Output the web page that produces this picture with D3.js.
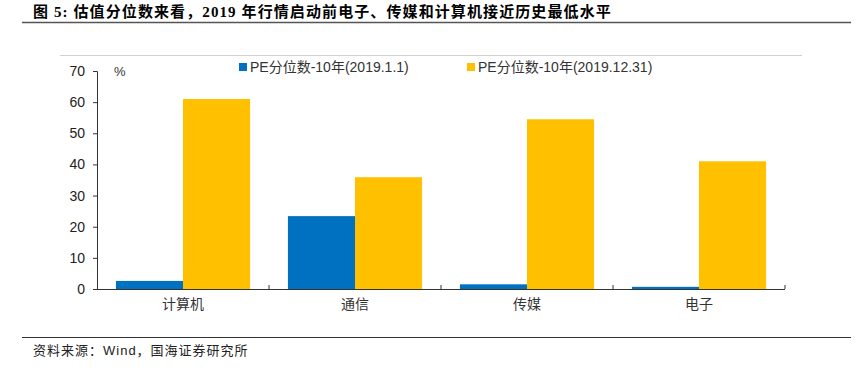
<!DOCTYPE html>
<html>
<head>
<meta charset="utf-8">
<script src="https://cdn.jsdelivr.net/npm/d3@7"></script>
<style>
  body { margin: 0; background: #fff; }
  svg { display: block; }
</style>
</head>
<body>
<svg id="chart" width="857" height="372"></svg>
<script>
const categories = ['计算机', '通信', '传媒', '电子']
const seriesNames = ['PE分位数-10年(2019.1.1)', 'PE分位数-10年(2019.12.31)']
const start2019 = [2.6, 23.4, 1.5, 0.7]
const end2019 = [61.0, 35.9, 54.5, 41.0]
const yTicks = [0, 10, 20, 30, 40, 50, 60, 70]

const colors = ['#0070C0', '#FFC000']
const cjk = '"Liberation Sans", "Noto Sans CJK SC", sans-serif'

const svg = d3.select('#chart')

// title + rules
svg.append('text')
  .attr('x', 33).attr('y', 17)
  .attr('font-family', '"Liberation Serif", "Noto Sans CJK SC", serif')
  .attr('font-weight', 'bold')
  .attr('font-size', '15px')
  .attr('letter-spacing', '1.1px')
  .attr('fill', '#000')
  .text('图 5:  估值分位数来看，2019 年行情启动前电子、传媒和计算机接近历史最低水平')

svg.append('line')
  .attr('x1', 22).attr('x2', 851).attr('y1', 22.5).attr('y2', 22.5)
  .attr('stroke', '#555').attr('stroke-width', 1.5)

svg.append('line')
  .attr('x1', 60).attr('x2', 802).attr('y1', 55.5).attr('y2', 55.5)
  .attr('stroke', '#d0d0d0').attr('stroke-width', 1)

svg.append('line')
  .attr('x1', 22).attr('x2', 851).attr('y1', 337.5).attr('y2', 337.5)
  .attr('stroke', '#333').attr('stroke-width', 1)

svg.append('text')
  .attr('x', 33).attr('y', 355)
  .attr('font-family', cjk)
  .attr('font-size', '13px')
  .attr('letter-spacing', '1px')
  .attr('fill', '#222')
  .text('资料来源：Wind，国海证券研究所')

// plot area
const plotLeft = 97, plotRight = 785, plotTop = 71, plotBottom = 289

const x0 = d3.scaleBand().domain(categories).range([plotLeft, plotRight])
  .paddingInner(0.22).paddingOuter(0.11)
const x1 = d3.scaleBand().domain([0, 1]).range([0, x0.bandwidth()])
const y = d3.scaleLinear().domain([0, 70]).range([plotBottom, plotTop])

const rows = categories.map((c, i) => ({ cat: c, vals: [start2019[i], end2019[i]] }))

svg.append('g')
  .selectAll('g.grp')
  .data(rows)
  .join('g')
  .attr('class', 'grp')
  .attr('transform', d => `translate(${x0(d.cat)},0)`)
  .selectAll('rect')
  .data(d => d.vals.map((v, k) => ({ v, k })))
  .join('rect')
  .attr('x', d => x1(d.k))
  .attr('width', x1.bandwidth())
  .attr('y', d => y(d.v))
  .attr('height', d => y(0) - y(d.v))
  .attr('fill', d => colors[d.k])

// y axis
const yAxis = svg.append('g')
  .attr('transform', `translate(${plotLeft},0)`)
  .call(d3.axisLeft(y).tickValues(yTicks).tickSize(4).tickPadding(8))
yAxis.select('.domain').attr('stroke', '#333')
yAxis.selectAll('.tick line').attr('stroke', '#333')
yAxis.selectAll('text')
  .attr('font-family', '"Liberation Sans", Arial, sans-serif')
  .attr('font-size', '14px')
  .attr('fill', '#222')

// x axis
const step = x0.step()
const boundaries = d3.range(1, categories.length + 1).map(i => plotLeft + i * step)
svg.append('line')
  .attr('x1', plotLeft).attr('x2', plotRight)
  .attr('y1', plotBottom + 0.5).attr('y2', plotBottom + 0.5)
  .attr('stroke', '#333')
svg.selectAll('line.xtick')
  .data(boundaries)
  .join('line')
  .attr('class', 'xtick')
  .attr('x1', d => d).attr('x2', d => d)
  .attr('y1', plotBottom - 4).attr('y2', plotBottom)
  .attr('stroke', '#333')
svg.selectAll('text.xlab')
  .data(categories)
  .join('text')
  .attr('class', 'xlab')
  .attr('x', d => x0(d) + x0.bandwidth() / 2)
  .attr('y', plotBottom + 20)
  .attr('text-anchor', 'middle')
  .attr('font-family', cjk)
  .attr('font-size', '14px')
  .attr('fill', '#333')
  .text(d => d)

svg.append('text')
  .attr('x', 114).attr('y', 76)
  .attr('font-family', '"Liberation Sans", Arial, sans-serif')
  .attr('font-size', '13px')
  .attr('fill', '#333')
  .text('%')

// legend
const legendX = [239, 467]
const lg = svg.selectAll('g.leg')
  .data(seriesNames)
  .join('g')
  .attr('class', 'leg')
  .attr('transform', (d, i) => `translate(${legendX[i]},67)`)
lg.append('rect')
  .attr('x', 0).attr('y', -4).attr('width', 8).attr('height', 8)
  .attr('fill', (d, i) => colors[i])
lg.append('text')
  .attr('x', 11).attr('y', 5)
  .attr('font-family', cjk)
  .attr('font-size', '14px')
  .attr('fill', '#333')
  .text(d => d)
</script>
</body>
</html>
